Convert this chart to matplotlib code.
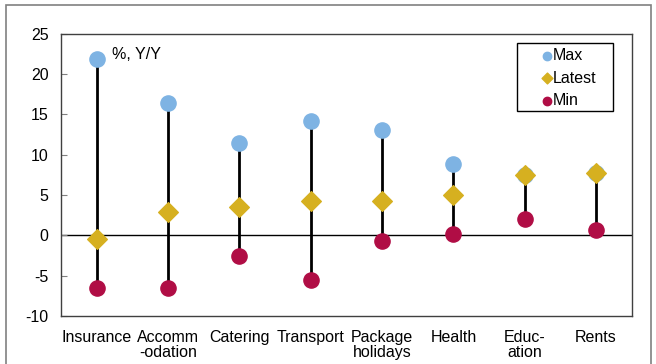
import matplotlib
matplotlib.use("Agg")
from matplotlib import pyplot as plt
from matplotlib.patches import Rectangle
import numpy as np

plt.rcParams['font.family'] = ['Liberation Sans', 'DejaVu Sans']
plt.rcParams['axes.unicode_minus'] = False

categories = ["Insurance", "Accomm\n-odation", "Catering", "Transport", "Package\nholidays",
              "Health", "Educ-\nation", "Rents"]
max_vals = [21.9, 16.4, 11.4, 14.2, 13.1, 8.9, 7.5, 7.7]
latest_vals = [-0.5, 2.9, 3.5, 4.3, 4.2, 5.0, 7.5, 7.7]
min_vals = [-6.5, -6.5, -2.6, -5.6, -0.7, 0.2, 2.0, 0.7]

blue = "#7eb3e3"
gold = "#d6b020"
crimson = "#b00d45"

fig = plt.figure(figsize=(6.56, 3.64), dpi=100)
ax = fig.add_axes([0.093, 0.132, 0.870, 0.775])

# gray frame around the whole chart
fig.patches.append(Rectangle((6 / 656, -0.05), 645 / 656, 1 - 5 / 364 + 0.05,
                             transform=fig.transFigure, fill=False,
                             edgecolor="#808080", linewidth=1.2))

x = np.arange(len(categories)) + 0.5

ax.vlines(x, min_vals, max_vals, color="black", linewidth=2, zorder=2)
ax.axhline(0, color="black", linewidth=1, zorder=1)
ax.scatter(x, max_vals, s=120, color=blue, marker="o", label="Max", zorder=3)
ax.scatter(x, latest_vals, s=100, color=gold, edgecolors=gold, linewidths=1,
           marker="D", label="Latest", zorder=4)
ax.scatter(x, min_vals, s=120, color=crimson, marker="o", label="Min", zorder=5)

ax.set_xlim(0, len(categories))
ax.set_ylim(-10, 25)
ax.set_yticks(range(-10, 30, 5))
ax.set_xticks(x)
ax.set_xticklabels(categories, fontsize=11.5, linespacing=1.0)
ax.tick_params(axis="x", length=0, pad=10)
ax.tick_params(axis="y", direction="in", length=4, color="#808080", labelsize=11.5, pad=9)
for s in ax.spines.values():
    s.set_color("#404040")
    s.set_linewidth(1)

ax.text(0.72, 22.4, "%, Y/Y", fontsize=11.5, va="center", ha="left")

# legend box drawn separately so the padding matches
ax.add_patch(Rectangle((0.799, 0.727), 0.169, 0.241, transform=ax.transAxes,
                       fill=False, edgecolor="black", linewidth=1, zorder=6))
leg = ax.legend(loc="upper left", bbox_to_anchor=(0.840, 0.950), borderaxespad=0,
                borderpad=0, fontsize=11.5, markerscale=0.55, handletextpad=0.0,
                handlelength=0.8, labelspacing=0.48, frameon=False)

fig.savefig("out.png", dpi=100)
